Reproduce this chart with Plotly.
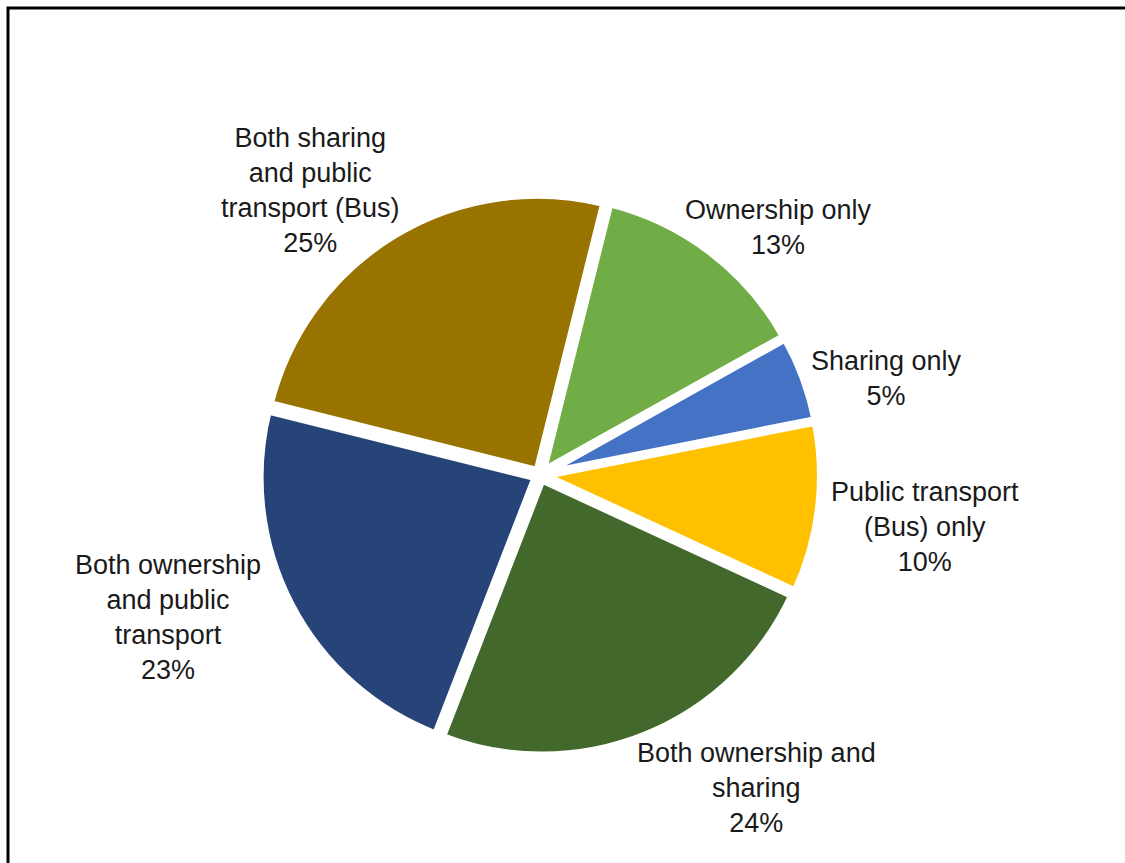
import plotly.graph_objects as go

categories = [
    "Ownership only",
    "Sharing only",
    "Public transport (Bus) only",
    "Both ownership and sharing",
    "Both ownership and public transport",
    "Both sharing and public transport (Bus)",
]
display_labels = [
    "Ownership only",
    "Sharing only",
    "Public transport<br>(Bus) only",
    "Both ownership and<br>sharing",
    "Both ownership<br>and public<br>transport",
    "Both sharing<br>and public<br>transport (Bus)",
]
values = [13, 5, 10, 24, 23, 25]
colors = ["#70AD47", "#4472C4", "#FFC000", "#43682B", "#264478", "#997300"]

# label anchor positions (pixels in the 1125x863 canvas)
label_px = [(778, 227), (887, 378), (925, 527), (756, 788), (168, 617), (310, 190)]

W, H = 1125, 863
cx, cy, R = 540, 475, 280.5

fig = go.Figure(
    go.Pie(
        labels=categories,
        values=values,
        sort=False,
        direction="clockwise",
        rotation=14,
        pull=[0.02] * len(values),
        marker=dict(colors=colors, line=dict(color="white", width=7)),
        textinfo="none",
        hoverinfo="label+percent",
        showlegend=False,
        domain=dict(x=[(cx - R) / W, (cx + R) / W], y=[1 - (cy + R) / H, 1 - (cy - R) / H]),
    )
)

total = sum(values)
for lab, v, (px, py) in zip(display_labels, values, label_px):
    fig.add_annotation(
        x=px / W, y=1 - py / H, xref="paper", yref="paper",
        text=f"{lab}<br>{round(100 * v / total)}%",
        showarrow=False, xanchor="center", yanchor="middle", align="center",
        font=dict(family="Liberation Sans, Arial, sans-serif", size=27, color="#1a1a1a"),
    )

fig.add_shape(
    type="rect", xref="paper", yref="paper",
    x0=8 / W, x1=1.02, y0=-0.02, y1=1 - 8 / H,
    line=dict(color="black", width=3), fillcolor="rgba(0,0,0,0)",
)

fig.update_layout(
    width=W, height=H,
    margin=dict(l=0, r=0, t=0, b=0),
    paper_bgcolor="white", plot_bgcolor="white",
)

fig.write_html("out.html")
